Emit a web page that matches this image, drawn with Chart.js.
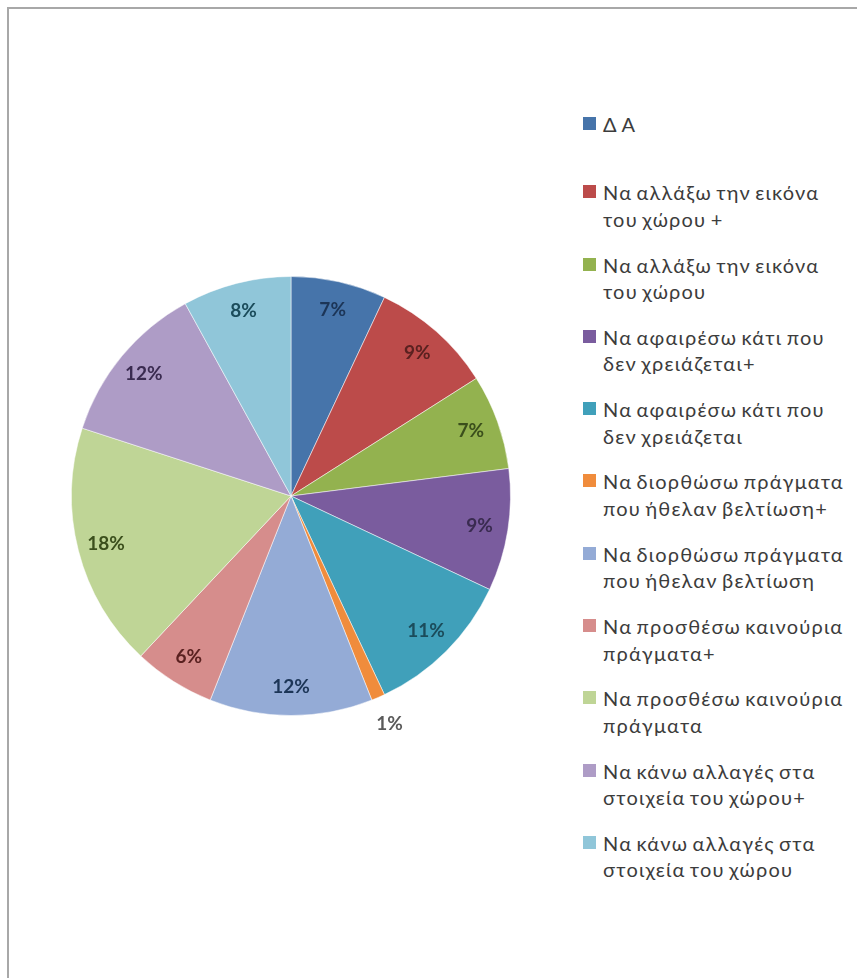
<!DOCTYPE html>
<html>
<head>
<meta charset="utf-8">
<script src="https://cdn.jsdelivr.net/npm/chart.js@4"></script>
<style>
  html, body { margin: 0; padding: 0; background: #fff; }
  body { width: 857px; height: 978px; position: relative; overflow: hidden; }
  #frame { position: absolute; left: 7px; top: 7px; width: 900px; height: 1000px;
           border-top: 2px solid #a8a8a8; border-left: 2px solid #a8a8a8; }
  #wrap { position: absolute; left: 21px; top: 226px; width: 540px; height: 540px; }
  #legend { position: absolute; left: 583px; top: 107px; font-family: "Lato", "Noto Sans", sans-serif;
            font-size: 20px; letter-spacing: 1.2px; word-spacing: -2px; color: #3c3c3c; }
  .item { position: relative; height: 72.3px; }
  .box { position: absolute; left: 0; top: 6px; width: 13px; height: 13px; }
  .txt { position: absolute; left: 20px; top: 0; line-height: 26.5px; white-space: nowrap; }
</style>
</head>
<body>
<div id="frame"></div>
<div id="wrap"><canvas id="c" width="540" height="540"></canvas></div>
<div id="legend"></div>
<script>
// ---- data ----
const categories = [
  ["Δ Α"],
  ["Να αλλάξω την εικόνα", "του χώρου +"],
  ["Να αλλάξω την εικόνα", "του χώρου"],
  ["Να αφαιρέσω κάτι που", "δεν χρειάζεται+"],
  ["Να αφαιρέσω κάτι που", "δεν χρειάζεται"],
  ["Να διορθώσω πράγματα", "που ήθελαν βελτίωση+"],
  ["Να διορθώσω πράγματα", "που ήθελαν βελτίωση"],
  ["Να προσθέσω καινούρια", "πράγματα+"],
  ["Να προσθέσω καινούρια", "πράγματα"],
  ["Να κάνω αλλαγές στα", "στοιχεία του χώρου+"],
  ["Να κάνω αλλαγές στα", "στοιχεία του χώρου"]
];
const values = [7, 9, 7, 9, 11, 1, 12, 6, 18, 12, 8];
const sliceColors = ["#4674aa", "#bc4b4a", "#93b24f", "#7a5c9e", "#40a0ba", "#f08c3c",
                     "#94abd6", "#d68d8c", "#bfd596", "#ae9cc6", "#90c6d9"];
const labelColors = ["#1c3557", "#5a2120", "#3b4f1c", "#3a2b50", "#1b4c5b", "#5a5a5a",
                     "#1c3557", "#5a2120", "#3b4f1c", "#3a2b50", "#1b4c5b"];

// ---- legend (HTML) ----
const legendEl = document.getElementById('legend');
categories.forEach((lines, i) => {
  const it = document.createElement('div');
  it.className = 'item';
  const b = document.createElement('div');
  b.className = 'box';
  b.style.background = sliceColors[i];
  const t = document.createElement('div');
  t.className = 'txt';
  t.innerHTML = lines.join('<br>');
  if (lines.length === 1) { b.style.top = '10px'; t.style.top = '4px'; }
  it.appendChild(b); it.appendChild(t);
  legendEl.appendChild(it);
});

// ---- percentage labels plugin ----
const pctLabels = {
  id: 'pctLabels',
  afterDatasetsDraw(chart) {
    const ctx = chart.ctx;
    const meta = chart.getDatasetMeta(0);
    const total = values.reduce((a, b) => a + b, 0);
    ctx.save();
    ctx.font = 'bold 19px Lato, "Noto Sans", sans-serif';
    ctx.textAlign = 'center';
    ctx.textBaseline = 'middle';
    meta.data.forEach((arc, i) => {
      const p = arc.getProps(['x', 'y', 'startAngle', 'endAngle', 'outerRadius'], true);
      const mid = (p.startAngle + p.endAngle) / 2;
      const frac = values[i] / total;
      const r = frac < 0.02 ? p.outerRadius * 1.13 : p.outerRadius * 0.87;
      ctx.fillStyle = labelColors[i];
      ctx.fillText(Math.round(frac * 100) + '%', p.x + Math.cos(mid) * r, p.y + Math.sin(mid) * r);
    });
    ctx.restore();
  }
};

new Chart(document.getElementById('c'), {
  type: 'pie',
  data: {
    labels: categories.map(l => l.join(' ')),
    datasets: [{
      data: values,
      backgroundColor: sliceColors,
      borderColor: 'rgba(255,255,255,0.5)',
      borderWidth: 1
    }]
  },
  options: {
    responsive: false,
    animation: false,
    layout: { padding: 50 },
    plugins: { legend: { display: false }, tooltip: { enabled: false } }
  },
  plugins: [pctLabels]
});
</script>
</body>
</html>
